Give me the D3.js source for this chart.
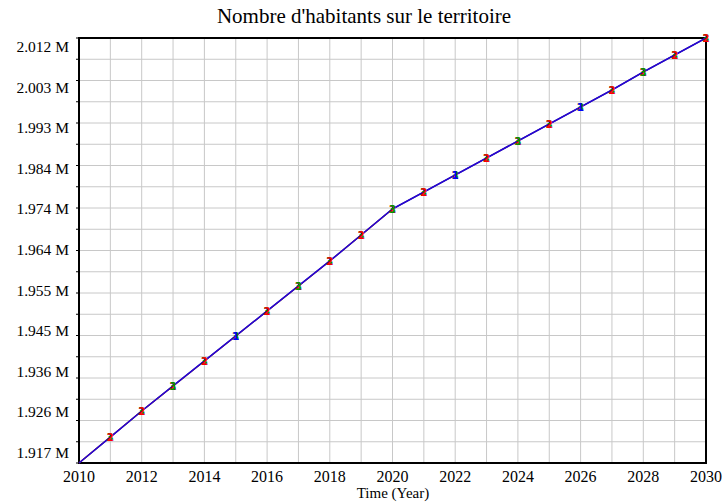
<!DOCTYPE html>
<html>
<head>
<meta charset="utf-8">
<script src="https://cdn.jsdelivr.net/npm/d3@7/dist/d3.min.js"></script>
<style>
  html, body { margin: 0; padding: 0; background: #fff; }
</style>
</head>
<body>
<svg id="chart" width="723" height="504"></svg>
<script>
// Population (millions) per year, three simulation runs that coincide
const years = d3.range(2010, 2031);
const population = [
  1.91466, 1.92074, 1.92683, 1.93268, 1.93853, 1.94438, 1.95023, 1.95608,
  1.96193, 1.96801, 1.97410, 1.97807, 1.98205, 1.98603, 1.99001, 1.99399,
  1.99796, 2.00194, 2.00615, 2.01013, 2.01411
];
const runNames = ["1", "2", "3"];
const runColors = ["#0000ff", "#ff0000", "#009a00"];
// which run's marker sits on top at each year
const topRun = [1, 1, 1, 2, 1, 0, 1, 2, 1, 1, 2, 1, 0, 1, 2, 1, 0, 1, 2, 1, 1];

const xTickLabels = ["2010", "2012", "2014", "2016", "2018", "2020", "2022", "2024", "2026", "2028", "2030"];
const yTickLabels = ["1.917 M", "1.926 M", "1.936 M", "1.945 M", "1.955 M", "1.964 M",
                     "1.974 M", "1.984 M", "1.993 M", "2.003 M", "2.012 M"];
const yLabelFirst = 1.917, yLabelLast = 2.012;

const SERIF = '"Liberation Serif"';
const SANS = '"DejaVu Sans"';

const svg = d3.select("#chart");
const m = { left: 79, right: 706, top: 38, bottom: 463 };

const x = d3.scaleLinear().domain([2010, 2030]).range([m.left, m.right]);
const y = d3.scaleLinear().domain(d3.extent(population)).range([m.bottom, m.top]);

// grid: one line per year, twenty horizontal divisions
const gx = d3.range(2010, 2031);
const yMin = y.domain()[0], yMax = y.domain()[1];
const gy = d3.range(0, 21).map(i => yMin + i * (yMax - yMin) / 20);

svg.append("g").selectAll("line").data(gx).join("line")
  .attr("x1", d => x(d)).attr("x2", d => x(d))
  .attr("y1", m.top).attr("y2", m.bottom)
  .attr("stroke", "#c8c8c8").attr("stroke-width", 1);
svg.append("g").selectAll("line").data(gy).join("line")
  .attr("x1", m.left).attr("x2", m.right)
  .attr("y1", d => y(d)).attr("y2", d => y(d))
  .attr("stroke", "#c8c8c8").attr("stroke-width", 1);

// small outside ticks on the left axis
svg.append("g").selectAll("line").data(gy).join("line")
  .attr("x1", m.left - 3).attr("x2", m.left)
  .attr("y1", d => y(d)).attr("y2", d => y(d))
  .attr("stroke", "#000").attr("stroke-width", 1);

// frame
svg.append("rect")
  .attr("x", m.left).attr("y", m.top)
  .attr("width", m.right - m.left).attr("height", m.bottom - m.top)
  .attr("fill", "none").attr("stroke", "#000").attr("stroke-width", 2);

// x axis labels
svg.append("g").selectAll("text").data(xTickLabels).join("text")
  .attr("x", d => x(+d))
  .attr("y", 482)
  .attr("text-anchor", "middle")
  .style("font-family", SERIF).style("font-size", "16px")
  .attr("fill", "#000")
  .text(d => d);

// y axis labels, evenly spread from first to last label value
const yLabelScale = d3.scaleLinear().domain([0, yTickLabels.length - 1]).range([yLabelFirst, yLabelLast]);
const yLabelPos = d3.scaleLinear().domain([yLabelFirst, yLabelLast]).range([453, 47]);
svg.append("g").selectAll("text").data(yTickLabels).join("text")
  .attr("x", m.left - 10)
  .attr("y", (d, i) => yLabelPos(yLabelScale(i)) + 5)
  .attr("text-anchor", "end")
  .style("font-family", SERIF).style("font-size", "15.5px")
  .attr("fill", "#000")
  .text(d => d);

// series lines (runs overlap; blue drawn last)
const line = d3.line().x((d, i) => x(years[i])).y(d => y(d));
[2, 1, 0].forEach(r => {
  svg.append("path").datum(population)
    .attr("d", line)
    .attr("fill", "none")
    .attr("stroke", runColors[r])
    .attr("stroke-width", r === 0 ? 1.6 : 1.2)
    .attr("stroke-opacity", r === 0 ? 0.85 : 1);
});

// run number markers at every year after the start
const markers = [];
years.forEach((yr, i) => {
  if (i === 0) return;
  const order = [0, 1, 2].filter(r => r !== topRun[i]).concat([topRun[i]]);
  order.forEach(r => markers.push({ yr, v: population[i], r }));
});
svg.append("g").selectAll("text").data(markers).join("text")
  .attr("x", d => x(d.yr))
  .attr("y", d => y(d.v) + 4)
  .attr("text-anchor", "middle")
  .style("font-family", SANS)
  .style("font-size", "10px")
  .style("font-weight", "bold")
  .attr("fill", d => runColors[d.r])
  .text(d => runNames[d.r]);

// title and axis name
svg.append("text").attr("x", 364).attr("y", 23).attr("text-anchor", "middle")
  .style("font-family", SERIF).style("font-size", "21px").attr("fill", "#000")
  .text("Nombre d'habitants sur le territoire");
svg.append("text").attr("x", 393).attr("y", 498).attr("text-anchor", "middle")
  .style("font-family", SERIF).style("font-size", "15px").attr("fill", "#000")
  .text("Time (Year)");
</script>
</body>
</html>
